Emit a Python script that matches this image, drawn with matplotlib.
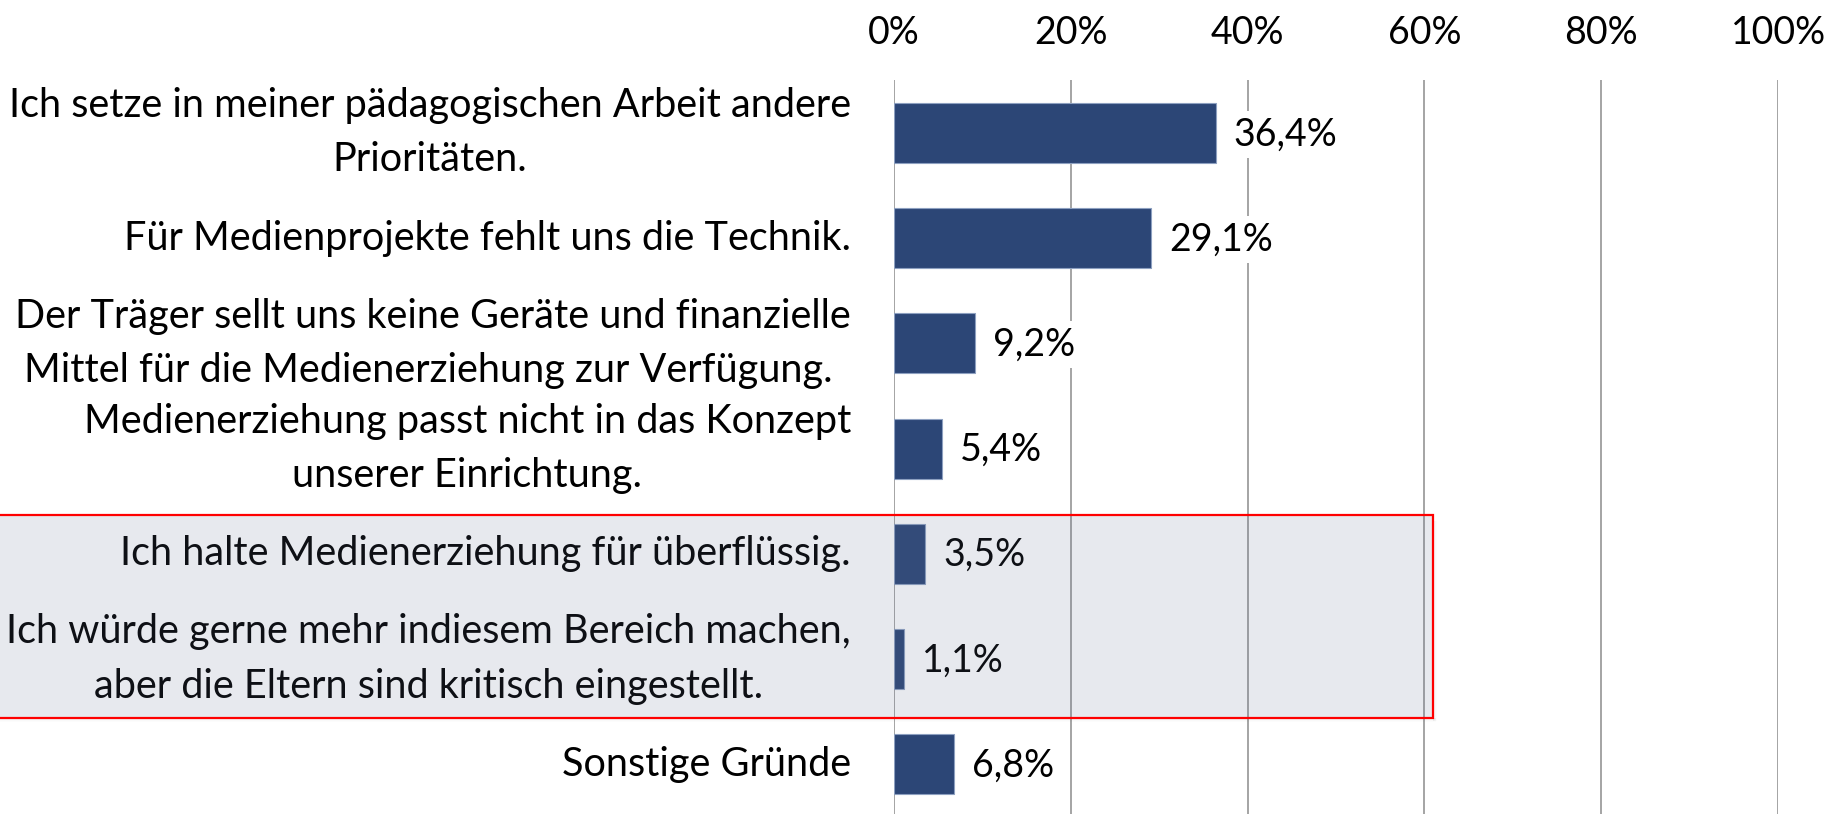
import matplotlib.pyplot as plt
import matplotlib.transforms as mtrans
from matplotlib.patches import Rectangle

plt.rcParams['font.family'] = ['Lato', 'DejaVu Sans']

gruende = [
    'Ich setze in meiner pädagogischen Arbeit andere\nPrioritäten.',
    'Für Medienprojekte fehlt uns die Technik.',
    'Der Träger sellt uns keine Geräte und finanzielle\nMittel für die Medienerziehung zur Verfügung. ',
    'Medienerziehung passt nicht in das Konzept\nunserer Einrichtung.',
    'Ich halte Medienerziehung für überflüssig.',
    'Ich würde gerne mehr indiesem Bereich machen,\naber die Eltern sind kritisch eingestellt.',
    'Sonstige Gründe',
]
werte = [36.4, 29.1, 9.2, 5.4, 3.5, 1.1, 6.8]
ticks = [0, 20, 40, 60, 80, 100]

fs = 27
fig = plt.figure(figsize=(18.35, 8.14), dpi=100)
ax = fig.add_axes([0.4872, -0.0034, 0.4818, 0.9047])

y = list(range(len(werte)))
ax.barh(y, werte, height=0.57, color='#2c4676', edgecolor='#8da0c0', linewidth=0.8, zorder=3)

for xt in ticks:
    ax.axvline(xt, color='#8c8c8c', linewidth=1.1, zorder=1)

for yi, w in zip(y, werte):
    txt = ('%.1f%%' % w).replace('.', ',')
    ax.annotate(txt, (w, yi), xytext=(13, -1), textcoords='offset points',
                va='center', ha='left', fontsize=fs, zorder=4,
                bbox=dict(facecolor='white', edgecolor='none', pad=4))

ax.set_xlim(0, 100)
ax.set_ylim(len(werte) - 0.5, -0.5)
ax.xaxis.tick_top()
ax.set_xticks(ticks)
ax.set_xticklabels(['%d%%' % t for t in ticks], fontsize=fs)
ax.set_yticks(y)
ax.set_yticklabels(gruende, fontsize=28.5, linespacing=1.57)
verschiebung = mtrans.ScaledTranslation(0, -2.5 / 72, fig.dpi_scale_trans)
for lbl in ax.get_yticklabels():
    lbl.set_multialignment('center')
    lbl.set_verticalalignment('center')
    lbl.set_transform(lbl.get_transform() + verschiebung)
ax.tick_params(axis='x', length=0, pad=21)
ax.tick_params(axis='y', length=0, pad=31)
for s in ax.spines.values():
    s.set_visible(False)

# markierter Bereich
x0, x1 = -5 / 1835, 1433 / 1835
y0, y1 = 1 - 718 / 814, 1 - 515 / 814
px, py = 1 / 1835, 1 / 814
# weicher Schatten unten und rechts
for i, a in enumerate([0.07, 0.05, 0.03, 0.015]):
    fig.patches.append(Rectangle((x0 + 3 * px, y0 - (i + 1) * py), x1 - x0, py,
                                 transform=fig.transFigure, facecolor='#404040',
                                 edgecolor='none', alpha=a, zorder=9))
    fig.patches.append(Rectangle((x1 + i * px, y0 - 3 * py), px, y1 - y0 - 3 * py,
                                 transform=fig.transFigure, facecolor='#404040',
                                 edgecolor='none', alpha=a, zorder=9))
fig.patches.append(Rectangle((x0, y0), x1 - x0, y1 - y0, transform=fig.transFigure,
                             facecolor='#5f6c8e', alpha=0.15, edgecolor='none', zorder=10))
fig.patches.append(Rectangle((x0, y0), x1 - x0, y1 - y0, transform=fig.transFigure,
                             facecolor='none', edgecolor='#ff0000', linewidth=1.6, zorder=11))

fig.savefig('out.png', dpi=100)
